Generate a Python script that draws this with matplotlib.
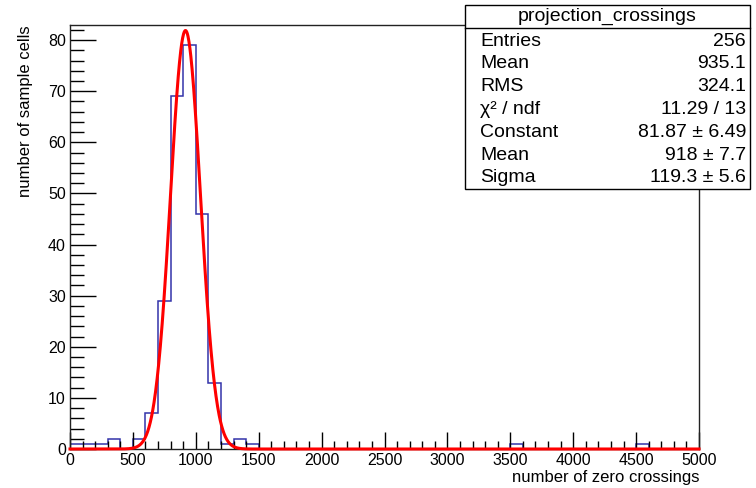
import numpy as np
import matplotlib
matplotlib.use("Agg")
import matplotlib.pyplot as plt
from matplotlib.ticker import MultipleLocator

plt.rcParams['font.family'] = ['Liberation Sans', 'DejaVu Sans']

# histogram: 50 bins of 100 from 0 to 5000
bin_edges = np.arange(0, 5001, 100)
counts = np.zeros(50)
filled_bins = [0, 1, 2, 3, 5, 6, 7, 8, 9, 10, 11, 12, 13, 14, 35, 45]
filled_counts = [1, 1, 1, 2, 2, 7, 29, 69, 79, 46, 13, 1, 2, 1, 1, 1]
counts[filled_bins] = filled_counts

# gaussian fit results
fit_const = 81.87
fit_mean = 918.0
fit_sigma = 119.3

stat_names = ["Entries", "Mean", "RMS", "\u03c7\u00b2 / ndf", "Constant", "Mean", "Sigma"]
stat_values = ["256", "935.1", "324.1", "11.29 / 13", "81.87 \u00b1 6.49",
               "918 \u00b1 7.7", "119.3 \u00b1 5.6"]

W, H = 756, 488
fig = plt.figure(figsize=(W / 100, H / 100), dpi=100)
ax = fig.add_axes([70 / W, 1 - 449 / H, 629 / W, 424 / H])

ax.stairs(counts, bin_edges, color='#3333aa', lw=1.1, baseline=None)

xf = np.linspace(0, 5000, 2000)
yf = fit_const * np.exp(-0.5 * ((xf - fit_mean) / fit_sigma) ** 2)
ax.plot(xf, yf, color='red', lw=2.2, clip_on=False, zorder=3)

ax.set_xlim(0, 5000)
ax.set_ylim(0, 79 * 1.05)
ax.xaxis.set_major_locator(MultipleLocator(500))
ax.xaxis.set_minor_locator(MultipleLocator(100))
ax.yaxis.set_major_locator(MultipleLocator(10))
ax.yaxis.set_minor_locator(MultipleLocator(2))
ax.tick_params(axis='x', which='major', direction='in', length=12, width=1, labelsize=11.5, pad=3)
ax.tick_params(axis='x', which='minor', direction='in', length=6, width=1)
ax.tick_params(axis='y', which='major', direction='in', length=19, width=1, labelsize=11.5, pad=3)
ax.tick_params(axis='y', which='minor', direction='in', length=10, width=1)
for s in ax.spines.values():
    s.set_linewidth(1)
    s.set_color('#222222')

ax.set_xlabel("number of zero crossings", fontsize=12, loc='right', labelpad=1)
ax.set_ylabel("number of sample cells", fontsize=12, loc='top', labelpad=11)

# stats box
bx0, bx1 = 465 / W, 750 / W
by0, by1 = 1 - 189 / H, 1 - 5 / H
fig.patches.append(plt.Rectangle((bx0, by0), bx1 - bx0, by1 - by0, transform=fig.transFigure,
                                 facecolor='white', edgecolor='black', lw=1, zorder=5))
fig.lines.append(plt.Line2D([bx0, bx1], [1 - 28 / H, 1 - 28 / H], transform=fig.transFigure,
                            color='black', lw=1, zorder=6))
fig.text((bx0 + bx1) / 2, 1 - 16.5 / H, "projection_crossings", ha='center', va='center',
         fontsize=14, zorder=7)
for i, (n, v) in enumerate(zip(stat_names, stat_values)):
    y = 1 - (41 + i * 22.8) / H
    fig.text(480 / W, y, n, ha='left', va='center', fontsize=14, zorder=7)
    fig.text(746 / W, y, v, ha='right', va='center', fontsize=14, zorder=7)

fig.savefig("out.png", dpi=100)
